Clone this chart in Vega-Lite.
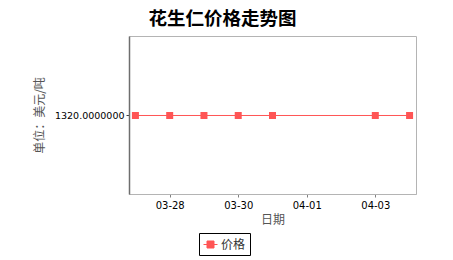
{
  "$schema": "https://vega.github.io/schema/vega-lite/v6.json",
  "width": 287,
  "height": 158,
  "autosize": {"type": "none"},
  "padding": {"left": 129, "top": 36, "right": 37, "bottom": 66},
  "background": "white",
  "title": {
    "text": "花生仁价格走势图",
    "font": "Noto Sans CJK SC",
    "fontSize": 18.5,
    "fontWeight": "bold",
    "color": "#000000",
    "anchor": "middle",
    "dx": -50,
    "offset": 8
  },
  "config": {
    "view": {"stroke": "#b4b4b4", "strokeWidth": 1},
    "axis": {
      "labelFont": "DejaVu Sans",
      "labelFontSize": 10,
      "labelColor": "#000000",
      "titleFont": "Noto Sans CJK SC",
      "titleFontSize": 12,
      "titleFontWeight": "normal",
      "titleColor": "#555555",
      "tickSize": 3,
      "tickColor": "#808080",
      "grid": false
    }
  },
  "data": {
    "values": [
      {"日期": "2017/03/27", "价格": 1320, "系列": "价格"},
      {"日期": "2017/03/28", "价格": 1320, "系列": "价格"},
      {"日期": "2017/03/29", "价格": 1320, "系列": "价格"},
      {"日期": "2017/03/30", "价格": 1320, "系列": "价格"},
      {"日期": "2017/03/31", "价格": 1320, "系列": "价格"},
      {"日期": "2017/04/03", "价格": 1320, "系列": "价格"},
      {"日期": "2017/04/04", "价格": 1320, "系列": "价格"}
    ]
  },
  "mark": {
    "type": "line",
    "strokeWidth": 1,
    "point": {"shape": "square", "size": 49, "filled": true, "opacity": 1}
  },
  "encoding": {
    "x": {
      "field": "日期",
      "type": "temporal",
      "title": "日期",
      "scale": {
        "domain": [
          {"year": 2017, "month": 3, "date": 26, "hours": 19, "minutes": 30},
          {"year": 2017, "month": 4, "date": 4, "hours": 4, "minutes": 30}
        ]
      },
      "axis": {
        "values": [
          {"year": 2017, "month": 3, "date": 28},
          {"year": 2017, "month": 3, "date": 30},
          {"year": 2017, "month": 4, "date": 1},
          {"year": 2017, "month": 4, "date": 3}
        ],
        "format": "%m-%d",
        "domainColor": "#b4b4b4",
        "labelPadding": 3,
        "titlePadding": 4
      }
    },
    "y": {
      "field": "价格",
      "type": "quantitative",
      "title": "单位：美元/吨",
      "scale": {"domain": [1319, 1321.0127], "zero": false, "nice": false},
      "axis": {
        "values": [1320],
        "format": ".7f",
        "labelFontSize": 9.5,
        "domainColor": "#6e6e6e",
        "domainWidth": 1.5,
        "tickColor": "#404040",
        "labelPadding": 2,
        "titlePadding": 8
      }
    },
    "color": {
      "field": "系列",
      "type": "nominal",
      "scale": {"domain": ["价格"], "range": ["#ff5555"]},
      "legend": {
        "title": null,
        "orient": "none",
        "legendX": 70,
        "legendY": 197,
        "strokeColor": "#000000",
        "padding": 4,
        "symbolType": "M-1,0H1M-0.5,-0.5H0.5V0.5H-0.5Z",
        "symbolSize": 196,
        "symbolStrokeWidth": 1,
        "symbolFillColor": "#ff5555",
        "symbolOpacity": 1,
        "labelFont": "Noto Sans CJK SC",
        "labelFontSize": 12,
        "labelColor": "#333333",
        "labelOffset": 3
      }
    }
  }
}
